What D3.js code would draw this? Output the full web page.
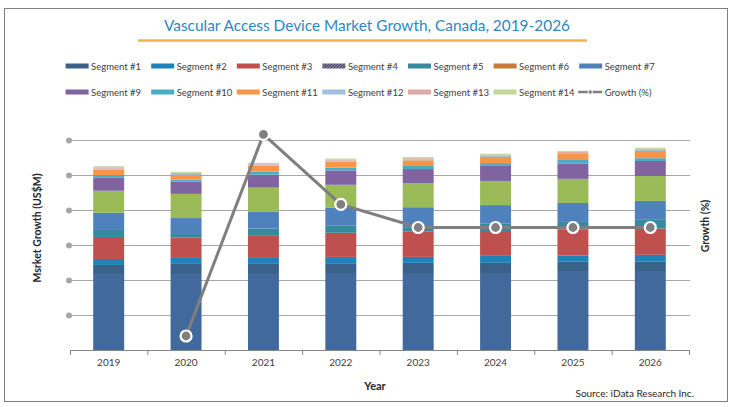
<!DOCTYPE html>
<html>
<head>
<meta charset="utf-8">
<script src="https://cdn.jsdelivr.net/npm/d3@7"></script>
<style>
  body { margin: 0; background: #fff; }
  svg { display: block; font-family: Lato, "Open Sans", sans-serif; }
</style>
</head>
<body>
<div id="chart"></div>
<script>
// chart data (units are arbitrary, no labels on value axis)
var years = ["2019", "2020", "2021", "2022", "2023", "2024", "2025", "2026"];
var seg0  = [217, 217, 217, 220, 220, 220, 223, 223];
var seg1  = [26, 29, 29, 26, 29, 29, 29, 29];
var seg2  = [17, 17, 17, 20, 17, 20, 18, 20];
var seg3  = [63, 58, 65, 69, 72, 71, 75, 75];
var seg5  = [20, 13, 19, 20, 13, 22, 21, 25];
var seg7  = [49, 43, 49, 51, 57, 52, 54, 54];
var seg8  = [63, 69, 68, 66, 69, 69, 69, 71];
var seg9  = [37, 35, 37, 41, 40, 43, 43, 43];
var seg10 = [8, 6, 9, 8, 11, 8, 11, 8];
var seg11 = [15, 13, 17, 17, 14, 18, 17, 21];
var seg12 = [3, 3, 3, 3, 3, 3, 3, 3];
var seg13 = [4, 3, 3, 3, 3, 3, 3, 3];
var seg14 = [3, 3, 2, 3, 3, 3, 3, 3];
var growth = [null, -10.0, 18.8, 8.8, 5.5, 5.5, 5.5, 5.5];

var legendRow1 = ["Segment #1", "Segment #2", "Segment #3", "Segment #4", "Segment #5", "Segment #6", "Segment #7"];
var legendRow2 = ["Segment #9", "Segment #10", "Segment #11", "Segment #12", "Segment #13", "Segment #14", "Growth (%)"];

var colors = {
  "Segment #0": "#41699b",
  "Segment #1": "#3a6189",
  "Segment #2": "#1f83b8",
  "Segment #3": "#c0504d",
  "Segment #4": "url(#hatch4)",
  "Segment #5": "#37899d",
  "Segment #6": "#c87a3f",
  "Segment #7": "#4f81bd",
  "Segment #8": "#9bbb59",
  "Segment #9": "#8064a2",
  "Segment #10": "#4bacc6",
  "Segment #11": "#f79646",
  "Segment #12": "url(#dots12)",
  "Segment #13": "#dba9a8",
  "Segment #14": "#c3d69b"
};

var stackSeries = [
  ["Segment #0", seg0], ["Segment #1", seg1], ["Segment #2", seg2], ["Segment #3", seg3],
  ["Segment #5", seg5], ["Segment #7", seg7], ["Segment #8", seg8], ["Segment #9", seg9],
  ["Segment #10", seg10], ["Segment #11", seg11], ["Segment #12", seg12],
  ["Segment #13", seg13], ["Segment #14", seg14]
];
var keys = stackSeries.map(function(s) { return s[0]; });
var rows = years.map(function(y, i) {
  var r = { year: y };
  stackSeries.forEach(function(s) { r[s[0]] = s[1][i]; });
  return r;
});

var W = 733, H = 407;
var svg = d3.select("#chart").append("svg").attr("width", W).attr("height", H);

var defs = svg.append("defs");
var p4 = defs.append("pattern").attr("id", "hatch4").attr("width", 3).attr("height", 3)
  .attr("patternUnits", "userSpaceOnUse");
p4.append("rect").attr("width", 3).attr("height", 3).attr("fill", "#7a7394");
p4.append("path").attr("d", "M0,3 L3,0").attr("stroke", "#4b4666").attr("stroke-width", 1);
var p12 = defs.append("pattern").attr("id", "dots12").attr("width", 2).attr("height", 2)
  .attr("patternUnits", "userSpaceOnUse");
p12.append("rect").attr("width", 2).attr("height", 2).attr("fill", "#a9c3e2");
p12.append("rect").attr("width", 1).attr("height", 1).attr("fill", "#8fb0d8");

// frame
svg.append("rect").attr("x", 4.5).attr("y", 8.5).attr("width", 723).attr("height", 393)
  .attr("fill", "none").attr("stroke", "#7f7f7f").attr("stroke-width", 1);

// title
svg.append("text").attr("x", 367).attr("y", 31).attr("text-anchor", "middle")
  .style("font-size", "16px").attr("fill", "#2e87bd")
  .attr("textLength", 406).attr("lengthAdjust", "spacingAndGlyphs")
  .text("Vascular Access Device Market Growth, Canada, 2019-2026");
svg.append("line").attr("x1", 138).attr("x2", 587).attr("y1", 40.5).attr("y2", 40.5)
  .attr("stroke", "#f0b440").attr("stroke-width", 2.5);

// scales
var x = d3.scaleBand().domain(years).range([70, 689]).paddingInner(0.6).paddingOuter(0.3);
var xCat = d3.scaleBand().domain(years).range([70, 689]);
var y = d3.scaleLinear().domain([0, 600]).range([350, 140]);
var yGrowth = d3.scaleLinear().domain([-12, 18]).range([350, 140]);

// gridlines
var gridTicks = y.ticks(6).filter(function(d) { return d > 0; });
svg.append("g").selectAll("line").data(gridTicks).enter().append("line")
  .attr("x1", 69).attr("x2", 690)
  .attr("y1", function(d) { return y(d) + 0.5; }).attr("y2", function(d) { return y(d) + 0.5; })
  .attr("stroke", "#a6a6a6").attr("stroke-width", 1.2);
svg.append("g").selectAll("circle").data(gridTicks).enter().append("circle")
  .attr("cx", 69).attr("cy", function(d) { return y(d) + 0.5; }).attr("r", 3)
  .attr("fill", "#a6a6a6");

// stacked bars
var stacked = d3.stack().keys(keys)(rows);
svg.append("g").selectAll("g").data(stacked).enter().append("g")
  .attr("fill", function(s) { return colors[s.key]; })
  .selectAll("rect").data(function(s) { return s; }).enter().append("rect")
  .attr("x", function(d) { return x(d.data.year); })
  .attr("width", x.bandwidth())
  .attr("y", function(d) { return y(d[1]); })
  .attr("height", function(d) { return y(d[0]) - y(d[1]); });

// x axis
var axisG = svg.append("g").attr("transform", "translate(0,350)");
axisG.append("line").attr("x1", 70).attr("x2", 689).attr("y1", 0.5).attr("y2", 0.5)
  .attr("stroke", "#868686");
var bounds = years.map(function(d) { return xCat(d); }).concat([xCat.range()[1]]);
axisG.selectAll(".tk").data(bounds).enter().append("line").attr("class", "tk")
  .attr("x1", function(d) { return d + 0.5; }).attr("x2", function(d) { return d + 0.5; })
  .attr("y1", 0).attr("y2", 5).attr("stroke", "#868686");
var xAxis = d3.axisBottom(x).tickSize(0).tickPadding(9);
var labG = axisG.append("g").call(xAxis);
labG.select(".domain").remove();
labG.selectAll("text").style("font-size", "10px").attr("fill", "#404040")
  .style("font-family", "Lato, sans-serif");

// growth line
var pts = years.map(function(yr, i) { return { year: yr, v: growth[i] }; })
  .filter(function(d) { return d.v !== null; });
var line = d3.line()
  .x(function(d) { return x(d.year) + x.bandwidth() / 2; })
  .y(function(d) { return yGrowth(d.v); });
svg.append("path").datum(pts).attr("d", line).attr("fill", "none")
  .attr("stroke", "#7f7f7f").attr("stroke-width", 3);
svg.append("g").selectAll("circle").data(pts).enter().append("circle")
  .attr("cx", function(d) { return x(d.year) + x.bandwidth() / 2; })
  .attr("cy", function(d) { return yGrowth(d.v); })
  .attr("r", 5.5).attr("fill", "#7f7f7f").attr("stroke", "#fff").attr("stroke-width", 2.2);

// axis titles
svg.append("text").attr("transform", "translate(41,228) rotate(-90)")
  .attr("text-anchor", "middle").style("font-size", "10.5px").style("font-weight", "bold")
  .attr("fill", "#262626").text("Msrket Growth (US$M)");
svg.append("text").attr("transform", "translate(709,226) rotate(-90)")
  .attr("text-anchor", "middle").style("font-size", "10.5px").style("font-weight", "bold")
  .attr("fill", "#262626").text("Growth (%)");
svg.append("text").attr("x", 375).attr("y", 390).attr("text-anchor", "middle")
  .style("font-size", "11px").style("font-weight", "bold").attr("fill", "#262626").text("Year");
svg.append("text").attr("x", 694).attr("y", 397).attr("text-anchor", "end")
  .style("font-size", "10px").attr("fill", "#262626").text("Source: iData Research Inc.");

// legend
function drawLegendRow(items, yPos) {
  var g = svg.append("g").attr("transform", "translate(0," + yPos + ")");
  items.forEach(function(name, i) {
    var lx = 65.6 + i * 85.6;
    if (name === "Growth (%)") {
      g.append("line").attr("x1", lx - 1).attr("x2", lx + 23).attr("y1", 0).attr("y2", 0)
        .attr("stroke", "#7f7f7f").attr("stroke-width", 2.5);
      g.append("circle").attr("cx", lx + 11).attr("cy", 0).attr("r", 2.2)
        .attr("fill", "#7f7f7f").attr("stroke", "#fff").attr("stroke-width", 1);
    } else {
      g.append("rect").attr("x", lx).attr("y", -2.5).attr("width", 23).attr("height", 5)
        .attr("fill", colors[name]);
    }
    g.append("text").attr("x", lx + 25.5).attr("y", 3.5).style("font-size", "9.5px")
      .attr("fill", "#404040").text(name);
  });
}
drawLegendRow(legendRow1, 66);
drawLegendRow(legendRow2, 92);
</script>
</body>
</html>
